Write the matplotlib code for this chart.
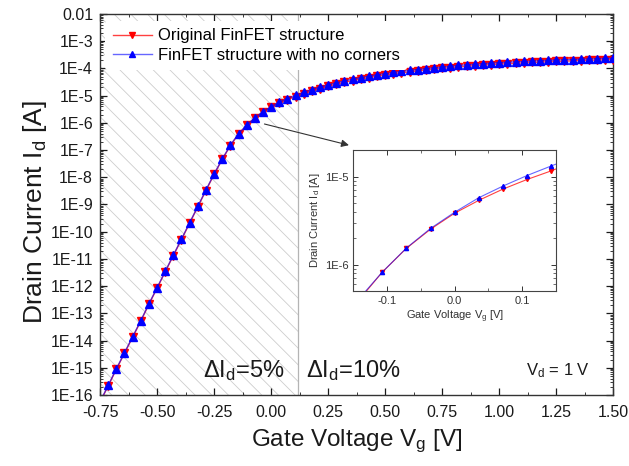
import matplotlib
matplotlib.use('Agg')
import matplotlib.pyplot as plt
import matplotlib.ticker as mticker
import numpy as np

plt.rcParams['font.family'] = ['Liberation Sans', 'DejaVu Sans']
plt.rcParams['mathtext.fontset'] = 'custom'
plt.rcParams['mathtext.rm'] = 'Liberation Sans'
plt.rcParams['mathtext.it'] = 'Liberation Sans'
plt.rcParams['hatch.linewidth'] = 0.6
plt.rcParams['hatch.color'] = '#cdcdcd'

# gate voltage sweep [V]
vg = [-0.75, -0.7143, -0.6786, -0.6429, -0.6071, -0.5714, -0.5357, -0.5, -0.4643, -0.4286,
      -0.3929, -0.3571, -0.3214, -0.2857, -0.25, -0.2143, -0.1786, -0.1429, -0.1071, -0.0714,
      -0.0357, 0.0, 0.0357, 0.0714, 0.1071, 0.1429, 0.1786, 0.2143, 0.25, 0.2857,
      0.3214, 0.3571, 0.3929, 0.4286, 0.4643, 0.5, 0.5357, 0.5714, 0.6071, 0.6429,
      0.6786, 0.7143, 0.75, 0.7857, 0.8214, 0.8571, 0.8929, 0.9286, 0.9643, 1.0,
      1.0357, 1.0714, 1.1071, 1.1429, 1.1786, 1.2143, 1.25, 1.2857, 1.3214, 1.3571,
      1.3929, 1.4286, 1.4643, 1.5]

# drain current [A], original FinFET
id_orig = [5.4e-17, 2.15e-16, 8.7e-16, 3.41e-15, 1.32e-14, 5.16e-14, 2.15e-13, 8.35e-13, 3.33e-12, 1.32e-11,
           5.16e-11, 2.05e-10, 8.2e-10, 3.25e-9, 1.27e-8, 4.5e-8, 1.45e-7, 3.85e-7, 8.2e-7, 1.528e-6,
           2.52e-6, 3.83e-6, 5.36e-6, 7.19e-6, 9.25e-6, 1.159e-5, 1.49e-5, 1.82e-5, 2.21e-5, 2.63e-5,
           3.07e-5, 3.56e-5, 4.07e-5, 4.59e-5, 5.14e-5, 5.72e-5, 6.30e-5, 6.89e-5, 7.48e-5, 8.10e-5,
           8.70e-5, 9.36e-5, 1.003e-4, 1.075e-4, 1.141e-4, 1.206e-4, 1.266e-4, 1.325e-4, 1.385e-4, 1.440e-4,
           1.494e-4, 1.547e-4, 1.598e-4, 1.650e-4, 1.700e-4, 1.747e-4, 1.796e-4, 1.842e-4, 1.889e-4, 1.934e-4,
           1.978e-4, 2.025e-4, 2.067e-4, 2.110e-4]

# drain current [A], FinFET with no corners
id_nocorner = [5.6e-17, 2.24e-16, 9.1e-16, 3.55e-15, 1.38e-14, 5.37e-14, 2.24e-13, 8.7e-13, 3.47e-12, 1.38e-11,
               5.37e-11, 2.14e-10, 8.5e-10, 3.39e-9, 1.32e-8, 4.68e-8, 1.51e-7, 3.98e-7, 8.2e-7, 1.54e-6,
               2.57e-6, 3.93e-6, 5.74e-6, 7.78e-6, 1.026e-5, 1.318e-5, 1.675e-5, 2.04e-5, 2.48e-5, 2.95e-5,
               3.45e-5, 4.0e-5, 4.57e-5, 5.16e-5, 5.78e-5, 6.43e-5, 7.08e-5, 7.74e-5, 8.41e-5, 9.1e-5,
               9.77e-5, 1.052e-4, 1.127e-4, 1.208e-4, 1.282e-4, 1.355e-4, 1.422e-4, 1.489e-4, 1.556e-4, 1.618e-4,
               1.679e-4, 1.738e-4, 1.795e-4, 1.854e-4, 1.91e-4, 1.963e-4, 2.018e-4, 2.07e-4, 2.123e-4, 2.173e-4,
               2.223e-4, 2.275e-4, 2.323e-4, 2.371e-4]

x_ticks = [-0.75, -0.50, -0.25, 0.00, 0.25, 0.50, 0.75, 1.00, 1.25, 1.50]
x_labels = ['-0.75', '-0.50', '-0.25', '0.00', '0.25', '0.50', '0.75', '1.00', '1.25', '1.50']
y_ticks = [1e-16, 1e-15, 1e-14, 1e-13, 1e-12, 1e-11, 1e-10, 1e-9, 1e-8, 1e-7, 1e-6, 1e-5, 1e-4, 1e-3, 1e-2]
y_labels = ['1E-16', '1E-15', '1E-14', '1E-13', '1E-12', '1E-11', '1E-10', '1E-9', '1E-8', '1E-7',
            '1E-6', '1E-5', '1E-4', '1E-3', '0.01']
hatch_end = 0.12

ink = '#1a1a1a'
red_line = (1.0, 0.0, 0.0, 0.75)
blue_line = (0.0, 0.0, 1.0, 0.6)

fig = plt.figure(figsize=(6.29, 4.66), dpi=100)
ax = fig.add_axes([0.159, 0.1524, 0.816, 0.8176])

ax.axvspan(-0.75, hatch_end, facecolor='none', edgecolor='#cdcdcd', hatch='\\\\', linewidth=0, zorder=0)
ax.axvline(hatch_end, color='#b4b4b4', lw=0.9, zorder=1)

ax.plot(vg, id_orig, color=red_line, lw=1.0, marker='v', ms=5.5, mec='#ff0000', mfc='#ff0000',
        label='Original FinFET structure', zorder=3)
ax.plot(vg, id_nocorner, color=blue_line, lw=1.0, marker='^', ms=5.5, mec='#0000ff', mfc='#0000ff',
        label='FinFET structure with no corners', zorder=4)

ax.set_yscale('log')
ax.set_xlim(-0.75, 1.5)
ax.set_ylim(1e-16, 1e-2)
ax.set_xticks(x_ticks)
ax.set_xticklabels(x_labels)
ax.xaxis.set_minor_locator(mticker.MultipleLocator(0.125))
ax.yaxis.set_major_locator(mticker.FixedLocator(y_ticks))
ax.set_yticklabels(y_labels)
ax.yaxis.set_minor_locator(mticker.LogLocator(base=10, subs=np.arange(2, 10), numticks=100))
ax.yaxis.set_minor_formatter(mticker.NullFormatter())
ax.tick_params(which='both', direction='in', top=True, right=True, colors=ink, labelsize=11.5)
ax.tick_params(which='major', length=5, width=0.9)
ax.tick_params(which='minor', length=2.5, width=0.6)
ax.tick_params(axis='y', which='major', pad=5)
ax.tick_params(axis='x', which='major', pad=7)
for s in ax.spines.values():
    s.set_color('#333333')
    s.set_linewidth(1.0)

ax.set_xlabel('Gate Voltage V$_\\mathregular{g}$ [V]', fontsize=17.5, color=ink, labelpad=6)
ax.set_ylabel('Drain Current I$_\\mathregular{d}$ [A]', fontsize=19, color=ink)
ax.yaxis.set_label_coords(-0.1, 0.48)

leg = ax.legend(loc='upper left', bbox_to_anchor=(0.0, 0.995), fontsize=12, frameon=True,
                handlelength=2.35, borderaxespad=0.3, labelspacing=0.25, handletextpad=0.35,
                borderpad=0.45, markerscale=0.85)
leg.get_frame().set_facecolor('white')
leg.get_frame().set_edgecolor('none')
leg.get_frame().set_alpha(1)
leg.set_zorder(5)

ax.text(0.06, 8.2e-16, '$\\Delta$I$_\\mathregular{d}$=5%', fontsize=17, color=ink, ha='right', va='center')
ax.text(0.155, 8.2e-16, '$\\Delta$I$_\\mathregular{d}$=10%', fontsize=17, color=ink, ha='left', va='center')
ax.text(1.258, 8.0e-16, 'V$_\\mathregular{d}$ = 1 V', fontsize=12, color=ink, ha='center', va='center')

# inset zoom around threshold
ins = fig.add_axes([0.5617, 0.3755, 0.3223, 0.3026])
ins.plot(vg, id_orig, color=red_line, lw=0.8, marker='v', ms=3, mec='#ff0000', mfc='#ff0000')
ins.plot(vg, id_nocorner, color=blue_line, lw=0.8, marker='^', ms=3, mec='#0000ff', mfc='#0000ff')
ins.set_yscale('log')
ins.set_xlim(-0.15, 0.15)
ins.set_ylim(5e-7, 2e-5)
ins.set_xticks([-0.1, 0.0, 0.1])
ins.set_xticklabels(['-0.1', '0.0', '0.1'])
ins.xaxis.set_minor_locator(mticker.MultipleLocator(0.05))
ins.yaxis.set_major_locator(mticker.FixedLocator([1e-6, 1e-5]))
ins.set_yticklabels(['1E-6', '1E-5'])
ins.yaxis.set_minor_locator(mticker.LogLocator(base=10, subs=np.arange(2, 10), numticks=100))
ins.yaxis.set_minor_formatter(mticker.NullFormatter())
ins.tick_params(which='both', direction='in', top=True, right=True, colors='#333333', labelsize=8)
ins.tick_params(which='major', length=3.5, width=0.7)
ins.tick_params(which='minor', length=2, width=0.5)
for s in ins.spines.values():
    s.set_color('#444444')
    s.set_linewidth(0.8)
ins.set_xlabel('Gate Voltage V$_\\mathregular{g}$ [V]', fontsize=8, color='#333333', labelpad=2)
ins.set_ylabel('Drain Current I$_\\mathregular{d}$ [A]', fontsize=8, color='#333333', labelpad=2)

ax.annotate('', xy=(0.559, 0.687), xycoords='figure fraction',
            xytext=(-0.041, 9.6e-7), textcoords='data',
            arrowprops=dict(arrowstyle='-|>', color='#333333', lw=0.8, mutation_scale=11))

fig.savefig('out.png', dpi=100)
